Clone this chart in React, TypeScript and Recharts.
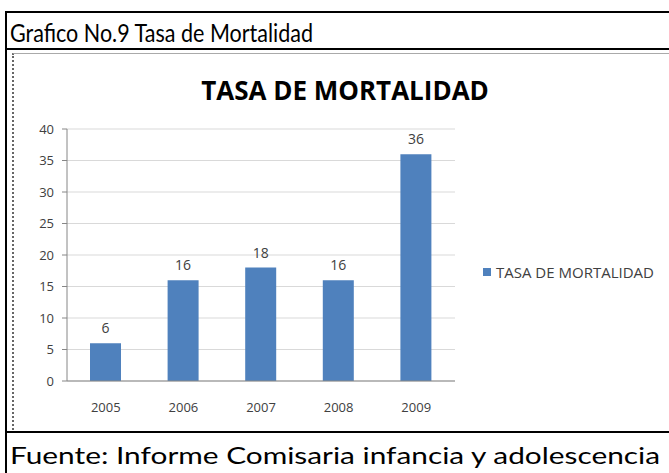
import { BarChart, Bar, XAxis, YAxis, CartesianGrid, LabelList } from "recharts";

const years = ["2005", "2006", "2007", "2008", "2009"];
const mortality = [6, 16, 18, 16, 36];
const yTicks = [0, 5, 10, 15, 20, 25, 30, 35, 40];
const seriesName = "TASA DE MORTALIDAD";

const data = years.map((year, i) => ({ year, value: mortality[i] }));

const pageFont = "Lato, 'Open Sans', sans-serif";
const chartFont = "'Open Sans', 'Liberation Sans', sans-serif";
const barColor = "#4f81bd";

// header / footer text stretched to the width it has in the picture
const FitText = ({ top, text, width, baseline, size }: { top: number; text: string; width: number; baseline: number; size: number }) => (
  <svg style={{ position: "absolute", left: 0, top }} width={669} height={36}>
    <text x={10} y={baseline} fontFamily={pageFont} fontSize={size} fill="#000" textLength={width} lengthAdjust="spacingAndGlyphs">
      {text}
    </text>
  </svg>
);

const App = () => {
  return (
    <div style={{ position: "absolute", left: 0, top: 0, width: 669, height: 473, background: "#fff", overflow: "hidden" }}>
      {/* outer frame */}
      <div style={{ position: "absolute", left: 5, top: 11, width: 680, height: 470, borderLeft: "2px solid #000", borderTop: "2px solid #000" }} />
      <FitText top={14} baseline={28} size={25} width={303} text="Grafico No.9 Tasa de Mortalidad" />
      <div style={{ position: "absolute", left: 5, top: 48, width: 680, borderTop: "2px solid #000" }} />
      {/* chart area frame */}
      <div style={{ position: "absolute", left: 12, top: 53, width: 680, height: 376, borderLeft: "2px dotted #666", borderTop: "1px solid #aaa" }} />
      <div style={{ position: "absolute", left: 5, top: 431, width: 680, borderTop: "2px solid #000" }} />
      <FitText top={436} baseline={28} size={24} width={650} text="Fuente: Informe Comisaria infancia y adolescencia" />

      <div style={{ position: "absolute", left: 0, top: 0 }}>
        <BarChart width={669} height={473} data={data} margin={{ top: 129, right: 214, bottom: 62, left: 17 }} barSize={31}>
          <text x={345} y={100} textAnchor="middle" fontFamily={chartFont} fontSize={26} fontWeight="bold" fill="#000">
            {seriesName}
          </text>
          <CartesianGrid vertical={false} stroke="#d9d9d9" />
          <XAxis
            dataKey="year"
            tickLine={false}
            axisLine={{ stroke: "#868686" }}
            tick={{ fill: "#404040", fontSize: 13, fontFamily: chartFont }}
            tickMargin={16}
            height={30}
          />
          <XAxis
            xAxisId="edges"
            type="number"
            domain={[0, 5]}
            ticks={[0, 1, 2, 3, 4, 5]}
            tick={false}
            tickSize={5}
            tickLine={{ stroke: "#868686" }}
            axisLine={false}
            height={0}
          />
          <YAxis
            domain={[0, 40]}
            ticks={yTicks}
            interval={0}
            tickSize={5}
            tickLine={{ stroke: "#868686" }}
            axisLine={{ stroke: "#868686" }}
            tick={{ fill: "#404040", fontSize: 13, fontFamily: chartFont }}
            tickMargin={8}
            width={50}
          />
          <Bar dataKey="value" name={seriesName} fill={barColor} isAnimationActive={false}>
            <LabelList dataKey="value" position="top" offset={10} fill="#404040" fontSize={14} fontFamily={chartFont} />
          </Bar>
        </BarChart>
      </div>

      {/* legend */}
      <div style={{ position: "absolute", left: 483, top: 262, display: "flex", alignItems: "center", gap: 5, whiteSpace: "nowrap" }}>
        <div style={{ width: 8, height: 8, background: barColor }} />
        <span style={{ color: "#404040", fontSize: 15, fontFamily: chartFont }}>{seriesName}</span>
      </div>
    </div>
  );
};

export default App;
